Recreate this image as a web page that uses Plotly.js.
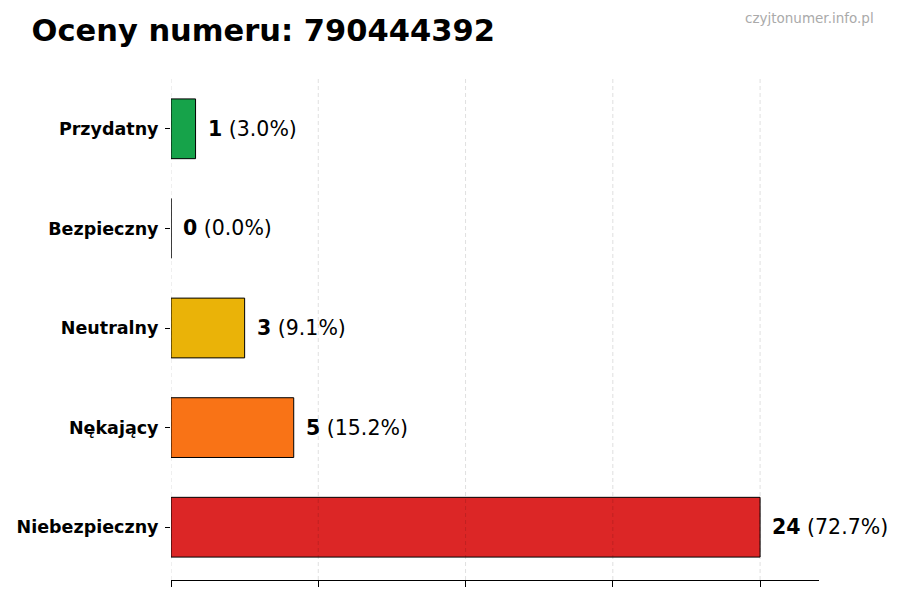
<!DOCTYPE html>
<html>
<head>
<meta charset="utf-8">
<script src="https://cdn.plot.ly/plotly-3.0.1.min.js"></script>
<style>
  html, body { margin: 0; padding: 0; background: #fff; }
  #chart { width: 900px; height: 600px; }
</style>
</head>
<body>
<div id="chart"></div>
<script>
// Ratings for one phone number, bottom-to-top order as drawn
const categories = ["Niebezpieczny", "Nękający", "Neutralny", "Bezpieczny", "Przydatny"];
const counts = [24, 5, 3, 0, 1];
const barColors = ["#dc2626", "#f97316", "#eab308", "#16a34a", "#16a34a"];
const xTicks = [0, 6, 12, 18, 24];

const total = counts.reduce((a, b) => a + b, 0);
const FONT = "DejaVu Sans, Liberation Sans, sans-serif";

const bars = {
  type: "bar",
  orientation: "h",
  x: counts,
  y: categories,
  width: 0.6,
  marker: { color: barColors, line: { color: "#000", width: 1 } },
  hoverinfo: "x+y",
  showlegend: false,
};

// value labels: bold count + percentage, just right of each bar
const labels = counts.map((v, i) => ({
  x: v,
  y: categories[i],
  xref: "x",
  yref: "y",
  text: `<b>${v}</b> (${((v / total) * 100).toFixed(1)}%)`,
  showarrow: false,
  xanchor: "left",
  xshift: 10,
  font: { family: FONT, size: 20.5, color: "#000" },
}));

// dashed grid drawn over the bars, like the original
const grid = xTicks.map((t) => ({
  type: "line",
  xref: "x",
  yref: "paper",
  x0: t,
  x1: t,
  y0: 0,
  y1: 1,
  layer: "above",
  line: { color: "rgba(0,0,0,0.16)", width: 0.8, dash: "4px,3px" },
}));

const layout = {
  width: 900,
  height: 600,
  paper_bgcolor: "#fff",
  plot_bgcolor: "#fff",
  margin: { l: 171, r: 81, t: 76, b: 20 },
  font: { family: FONT, color: "#000" },
  title: {
    text: "<b>Oceny numeru: 790444392</b>",
    x: 0.035,
    xanchor: "left",
    y: 0.95,
    yanchor: "middle",
    font: { family: FONT, size: 30.5, color: "#000" },
  },
  xaxis: {
    range: [0, 26.4],
    tickvals: xTicks,
    ticktext: xTicks.map(() => ""),
    ticks: "outside",
    ticklen: 6,
    tickcolor: "#000",
    showgrid: false,
    zeroline: false,
    showline: true,
    linecolor: "#000",
    linewidth: 1,
    fixedrange: true,
  },
  yaxis: {
    range: [-0.53, 4.53],
    categoryorder: "array",
    categoryarray: categories,
    ticks: "outside",
    ticklen: 5,
    tickcolor: "#000",
    ticklabelstandoff: 3,
    tickfont: { family: FONT, size: 17.5, color: "#000", weight: "bold" },
    showgrid: false,
    zeroline: false,
    showline: false,
    fixedrange: true,
  },
  shapes: grid,
  annotations: [
    ...labels,
    {
      text: "czyjtonumer.info.pl",
      xref: "paper",
      yref: "paper",
      x: 1.0 + 57 / 648,
      y: 1 + 58 / 504,
      xanchor: "right",
      yanchor: "middle",
      showarrow: false,
      font: { family: FONT, size: 13.5, color: "#aaa" },
    },
  ],
  bargap: 0.4,
};

Plotly.newPlot("chart", [bars], layout, { displayModeBar: false, staticPlot: true });
</script>
</body>
</html>
